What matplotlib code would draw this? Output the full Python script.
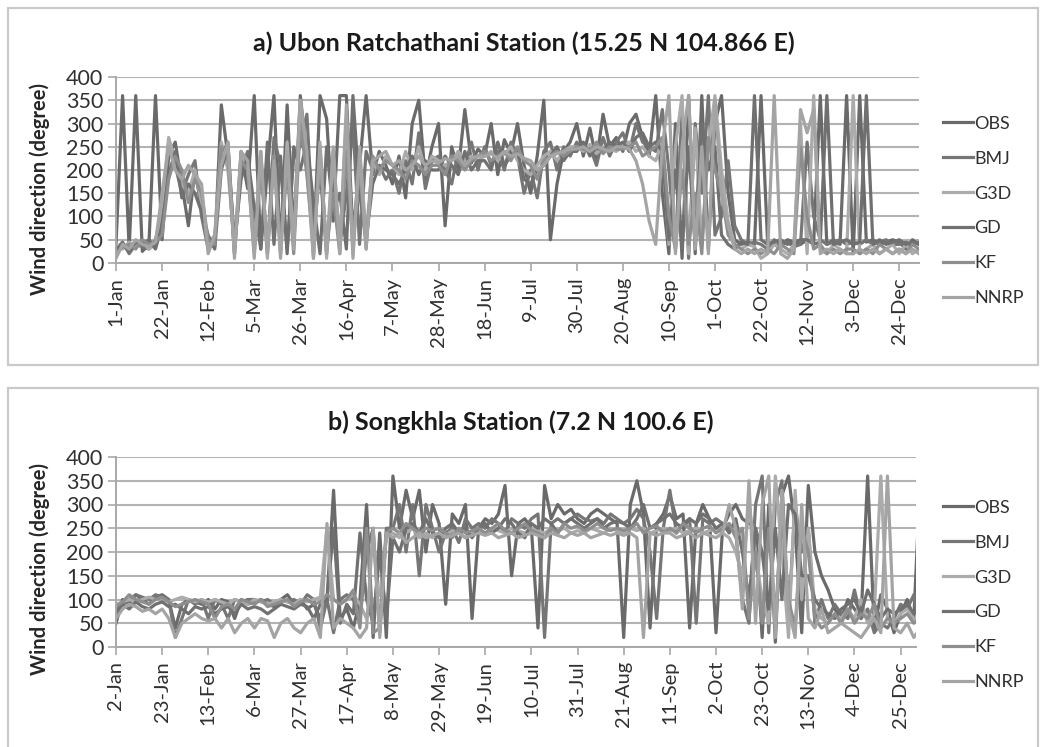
import numpy as np
import matplotlib
matplotlib.use("Agg")
import matplotlib.pyplot as plt
from matplotlib.patches import Rectangle

plt.rcParams["font.family"] = ["Lato", "DejaVu Sans"]

W, H = 1053, 747

# Wind direction (degrees), one value every 3 days
series_names = ["OBS", "BMJ", "G3D", "GD", "KF", "NNRP"]
series_colors = ["#6a6a6a", "#767676", "#ababab", "#707070", "#8e8e8e", "#a4a4a4"]

# ---- a) Ubon Ratchathani (starts 1-Jan) ----
obs_a = [40, 360, 30, 360, 25, 40, 360,
         50, 230, 260, 170, 80, 200, 120,
         40, 35, 340, 230, 20, 240, 160,
         360, 30, 200, 360, 25, 340, 60,
         360, 230, 20, 360, 310, 90, 360,
         360, 60, 210, 360, 190, 240, 210,
         170, 230, 140, 300, 350, 180, 250,
         300, 80, 250, 200, 330, 215, 245,
         230, 300, 190, 265, 235, 300, 210,
         150, 230, 350, 50, 170, 240, 260,
         300, 230, 290, 220, 320, 250, 270,
         240, 300, 320, 270, 230, 360, 150,
         20, 300, 10, 360, 20, 360, 30,
         300, 360, 150, 50, 40, 45, 40,
         360, 45, 40, 35, 50, 45, 40,
         50, 45, 360, 40, 50, 40, 360,
         20, 360, 45, 50, 40, 45, 50,
         45, 30, 50, 40]
bmj_a = [30, 45, 20, 40, 35, 30, 50,
         110, 260, 210, 150, 190, 220, 100,
         30, 50, 230, 260, 30, 200, 240,
         40, 230, 20, 270, 210, 30, 230,
         250, 320, 60, 200, 20, 200, 40,
         150, 300, 40, 240, 200, 210, 180,
         200, 150, 220, 170, 280, 160, 220,
         230, 200, 170, 240, 210, 260, 200,
         250, 210, 240, 200, 260, 230, 150,
         200, 140, 240, 260, 200, 250, 230,
         260, 240, 250, 210, 270, 230, 260,
         280, 240, 300, 260, 250, 240, 330,
         200, 30, 330, 10, 300, 150, 360,
         60, 100, 220, 80, 50, 40, 45,
         40, 30, 50, 40, 45, 35, 40,
         260, 100, 50, 40, 45, 50, 40,
         45, 40, 50, 40, 45, 50, 40,
         40, 45, 40, 45]
g3d_a = [40, 30, 45, 35, 45, 30, 40,
         130, 270, 220, 170, 150, 200, 130,
         40, 60, 260, 200, 40, 230, 200,
         40, 240, 10, 230, 20, 260, 40,
         350, 200, 10, 260, 10, 240, 40,
         310, 20, 250, 60, 220, 190, 230,
         210, 190, 240, 200, 250, 200, 230,
         220, 210, 220, 240, 220, 230, 220,
         230, 240, 220, 235, 250, 220, 200,
         190, 210, 230, 240, 220, 240, 250,
         250, 240, 255, 235, 250, 245, 240,
         250, 260, 240, 250, 230, 220, 260,
         40, 250, 360, 20, 290, 40, 250,
         360, 200, 90, 40, 30, 40, 35,
         10, 20, 40, 30, 20, 40, 300,
         20, 360, 30, 20, 40, 30, 20,
         360, 20, 30, 40, 20, 30, 40,
         20, 40, 20, 30]
gd_a = [30, 40, 25, 45, 40, 50, 30,
        80, 190, 240, 140, 170, 150, 110,
        60, 30, 200, 250, 40, 180, 230,
        120, 30, 260, 40, 230, 20, 250,
        200, 260, 130, 20, 250, 110, 150,
        30, 360, 150, 50, 170, 210, 200,
        190, 170, 200, 230, 190, 220, 200,
        200, 230, 210, 190, 240, 200, 220,
        220, 200, 260, 210, 230, 240, 180,
        170, 200, 210, 230, 250, 220, 240,
        240, 260, 230, 250, 240, 260, 250,
        260, 240, 270, 280, 250, 260, 240,
        50, 200, 30, 250, 40, 300, 200,
        250, 60, 40, 30, 45, 40, 360,
        50, 40, 45, 50, 40, 45, 50,
        50, 40, 45, 360, 40, 45, 50,
        40, 45, 360, 40, 50, 40, 45,
        50, 40, 45, 40]
kf_a = [20, 35, 40, 30, 50, 40, 45,
        60, 180, 230, 200, 130, 180, 150,
        50, 40, 250, 230, 20, 220, 200,
        20, 200, 30, 230, 40, 200, 20,
        300, 190, 40, 240, 30, 150, 20,
        240, 40, 210, 30, 230, 200, 220,
        210, 200, 180, 220, 210, 190, 210,
        210, 190, 230, 220, 200, 220, 230,
        240, 220, 230, 240, 220, 250, 220,
        210, 180, 220, 230, 240, 230, 240,
        250, 245, 240, 260, 235, 250, 245,
        245, 250, 260, 230, 240, 250, 270,
        100, 30, 200, 40, 150, 20, 270,
        200, 150, 60, 40, 30, 20, 30,
        20, 30, 20, 40, 30, 20, 250,
        100, 30, 40, 20, 30, 20, 30,
        30, 20, 30, 20, 40, 30, 20,
        30, 20, 40, 30]
nnrp_a = [10, 40, 30, 50, 40, 35, 45,
          150, 250, 200, 180, 210, 190, 170,
          20, 60, 210, 260, 10, 240, 220,
          10, 240, 20, 220, 10, 240, 30,
          350, 240, 10, 250, 20, 250, 20,
          340, 10, 240, 30, 220, 230, 240,
          210, 220, 200, 210, 230, 210, 220,
          215, 225, 220, 230, 210, 225, 230,
          230, 235, 225, 240, 230, 235, 225,
          220, 200, 210, 230, 235, 240, 245,
          245, 250, 240, 250, 245, 240, 250,
          250, 245, 220, 170, 90, 40, 250,
          360, 20, 250, 360, 30, 250, 20,
          350, 150, 80, 30, 20, 30, 20,
          30, 20, 360, 20, 10, 30, 330,
          280, 330, 20, 30, 20, 30, 20,
          20, 30, 20, 30, 20, 30, 20,
          30, 20, 30, 20]

# ---- b) Songkhla (starts 2-Jan) ----
obs_b = [50, 100, 90, 110, 100, 90, 105,
         110, 100, 40, 90, 100, 95, 90,
         100, 80, 100, 95, 60, 100, 90,
         95, 100, 90, 85, 100, 110, 90,
         100, 80, 90, 60, 100, 330, 60,
         80, 40, 100, 300, 20, 240, 20,
         360, 250, 330, 270, 330, 200, 300,
         260, 90, 280, 260, 300, 60, 250,
         270, 260, 280, 340, 150, 260, 270,
         250, 40, 340, 270, 300, 280, 290,
         270, 260, 280, 290, 280, 270, 260,
         20, 300, 350, 280, 40, 260, 280,
         320, 270, 280, 40, 260, 300, 270,
         30, 250, 280, 300, 270, 260, 250,
         20, 300, 10, 320, 360, 250, 30,
         340, 200, 150, 120, 80, 60, 100,
         80, 60, 360, 40, 110, 80, 30,
         70, 100, 60, 360]
bmj_b = [80, 90, 100, 110, 105, 100, 110,
         105, 100, 20, 60, 100, 90, 100,
         60, 100, 90, 60, 100, 95, 100,
         100, 95, 100, 90, 100, 95, 100,
         90, 110, 100, 40, 100, 30, 100,
         110, 100, 60, 200, 250, 30, 250,
         250, 300, 200, 300, 150, 300, 250,
         200, 240, 250, 220, 270, 250, 260,
         250, 270, 260, 240, 270, 260, 250,
         270, 280, 20, 260, 270, 260, 270,
         280, 270, 265, 270, 260, 280, 270,
         260, 270, 290, 270, 200, 60, 250,
         330, 240, 260, 270, 50, 270, 260,
         270, 260, 250, 240, 100, 50, 300,
         360, 30, 300, 350, 60, 300, 200,
         250, 50, 100, 60, 90, 70, 60,
         120, 60, 80, 30, 50, 40, 60,
         90, 80, 110, 40]
g3d_b = [90, 95, 100, 95, 100, 105, 100,
         100, 95, 100, 105, 100, 95, 100,
         95, 100, 95, 90, 100, 95, 90,
         100, 95, 90, 95, 100, 95, 90,
         100, 95, 100, 105, 250, 100, 90,
         100, 110, 90, 60, 100, 110, 230,
         240, 230, 240, 250, 230, 240, 230,
         240, 235, 245, 240, 230, 240, 245,
         240, 250, 245, 240, 250, 245, 240,
         250, 245, 240, 250, 245, 250, 240,
         245, 240, 250, 245, 240, 250, 245,
         240, 250, 245, 250, 240, 245, 250,
         245, 250, 240, 245, 250, 240, 245,
         250, 240, 230, 200, 150, 300, 200,
         100, 50, 360, 200, 20, 330, 100,
         250, 80, 60, 50, 70, 60, 80,
         60, 100, 50, 70, 360, 60, 50,
         70, 80, 60, 50]
gd_b = [70, 90, 80, 95, 85, 80, 90,
        95, 85, 90, 80, 70, 85, 80,
        85, 70, 80, 85, 70, 90, 80,
        85, 80, 70, 80, 90, 85, 80,
        90, 85, 60, 90, 100, 250, 50,
        90, 70, 240, 100, 50, 200, 60,
        230, 200, 250, 260, 240, 270, 240,
        230, 250, 260, 240, 250, 230, 250,
        260, 240, 250, 270, 260, 240, 230,
        260, 250, 270, 260, 240, 260, 270,
        260, 250, 260, 270, 250, 260, 265,
        260, 250, 270, 300, 250, 260, 270,
        280, 260, 250, 270, 260, 280, 270,
        250, 260, 240, 270, 200, 100, 250,
        200, 80, 250, 100, 300, 280, 150,
        150, 100, 80, 70, 60, 80, 90,
        100, 70, 120, 90, 60, 80, 70,
        80, 90, 70, 80]
kf_b = [85, 95, 110, 100, 95, 90, 100,
        105, 95, 85, 90, 95, 100, 95,
        90, 60, 85, 90, 80, 100, 95,
        90, 100, 85, 90, 95, 100, 85,
        95, 100, 90, 95, 110, 100, 90,
        100, 120, 40, 250, 30, 40, 240,
        250, 240, 260, 250, 240, 250, 245,
        250, 240, 230, 250, 240, 245, 250,
        240, 250, 260, 245, 240, 250, 260,
        245, 240, 230, 250, 240, 260, 250,
        255, 245, 250, 260, 250, 245, 250,
        245, 250, 260, 240, 250, 255, 240,
        250, 240, 260, 250, 240, 250, 255,
        240, 250, 260, 230, 250, 60, 200,
        50, 250, 60, 280, 100, 40, 250,
        200, 60, 40, 50, 70, 50, 80,
        50, 70, 60, 90, 40, 60, 50,
        60, 70, 50, 60]
nnrp_b = [60, 80, 90, 85, 75, 80, 70,
          80, 60, 20, 50, 60, 70, 60,
          55, 60, 40, 60, 30, 50, 60,
          40, 60, 55, 20, 50, 60, 40,
          30, 50, 60, 20, 260, 40, 60,
          50, 40, 20, 40, 250, 20, 240,
          230, 240, 220, 230, 240, 230, 235,
          240, 230, 235, 240, 230, 235, 240,
          235, 240, 230, 235, 240, 230, 235,
          240, 235, 230, 240, 235, 230, 240,
          235, 240, 230, 235, 240, 235, 240,
          235, 240, 230, 20, 240, 235, 240,
          240, 230, 235, 240, 230, 240, 235,
          230, 240, 300, 250, 80, 350, 50,
          300, 360, 20, 330, 80, 20, 300,
          60, 40, 80, 30, 40, 50, 40,
          30, 20, 40, 60, 30, 360, 40,
          30, 50, 20, 40]

ticks_a = ["1-Jan", "22-Jan", "12-Feb", "5-Mar", "26-Mar", "16-Apr", "7-May",
           "28-May", "18-Jun", "9-Jul", "30-Jul", "20-Aug", "10-Sep", "1-Oct",
           "22-Oct", "12-Nov", "3-Dec", "24-Dec"]
ticks_b = ["2-Jan", "23-Jan", "13-Feb", "6-Mar", "27-Mar", "17-Apr", "8-May",
           "29-May", "19-Jun", "10-Jul", "31-Jul", "21-Aug", "11-Sep", "2-Oct",
           "23-Oct", "13-Nov", "4-Dec", "25-Dec"]

title_a = "a) Ubon Ratchathani Station (15.25 N 104.866 E)"
title_b = "b) Songkhla Station (7.2 N 100.6 E)"

STEP = 3  # days between samples


def px_axes(fig, left, top, right, bottom):
    return fig.add_axes([left / W, 1 - bottom / H, (right - left) / W, (bottom - top) / H])


def draw_panel(fig, box, ax_px, data, ticklabels, title, title_xy, xmax, leg_cy, ylab_y):
    # outer chart frame
    fig.patches.append(Rectangle((box[0] / W, 1 - box[3] / H), (box[2] - box[0]) / W,
                                 (box[3] - box[1]) / H, transform=fig.transFigure,
                                 fill=False, edgecolor="#c9c9c9", lw=1.6, zorder=0))
    ax = px_axes(fig, *ax_px)
    days = np.arange(len(data[0])) * STEP
    for vals, name, col in zip(data, series_names, series_colors):
        ax.plot(days, vals, color=col, lw=2.3, label=name, solid_joinstyle="round")
    ax.set_xlim(0, xmax)
    ax.set_ylim(0, 400)
    ax.set_yticks(np.arange(0, 401, 50))
    ax.set_xticks(np.arange(len(ticklabels)) * 21)
    ax.set_xticklabels(ticklabels, rotation=90, fontsize=14.5, color="#303030")
    ax.tick_params(axis="y", labelsize=15.5, colors="#303030", length=6, width=1.2,
                   color="#a8a8a8", pad=3)
    ax.tick_params(axis="x", length=6, width=1.2, color="#a8a8a8", pad=4)
    ax.grid(axis="y", color="#b3b3b3", lw=1.5)
    ax.set_axisbelow(True)
    for s in ("top", "right"):
        ax.spines[s].set_visible(False)
    for s in ("left", "bottom"):
        ax.spines[s].set_color("#a8a8a8")
        ax.spines[s].set_linewidth(1.4)
    ax.set_ylabel("Wind direction (degree)", fontsize=14.5, fontweight="bold", color="#262626")
    ax.yaxis.set_label_coords(-0.082, ylab_y)
    fig.text(title_xy[0] / W, 1 - title_xy[1] / H, title, ha="center", va="center",
             fontsize=18, fontweight="bold", color="#1a1a1a")
    ax.legend(loc="center left", bbox_to_anchor=(943 / W, 1 - leg_cy / H),
              bbox_transform=fig.transFigure, frameon=False, fontsize=13,
              handlelength=1.65, handletextpad=0.1, labelspacing=1.05, borderpad=0,
              borderaxespad=0, labelcolor="#303030")
    return ax


fig = plt.figure(figsize=(W / 100, H / 100), dpi=100)
fig.patch.set_facecolor("white")

draw_panel(fig, (8, 8, 1038, 365), (116, 77, 919, 263),
           [obs_a, bmj_a, g3d_a, gd_a, kf_a, nnrp_a], ticks_a, title_a,
           (524, 43), 366, 211, 0.40)
draw_panel(fig, (8, 388, 1038, 752), (116, 457, 916, 647),
           [obs_b, bmj_b, g3d_b, gd_b, kf_b, nnrp_b], ticks_b, title_b,
           (521, 422), 364, 595, 0.41)

fig.savefig("out.png", dpi=100, facecolor="white")
